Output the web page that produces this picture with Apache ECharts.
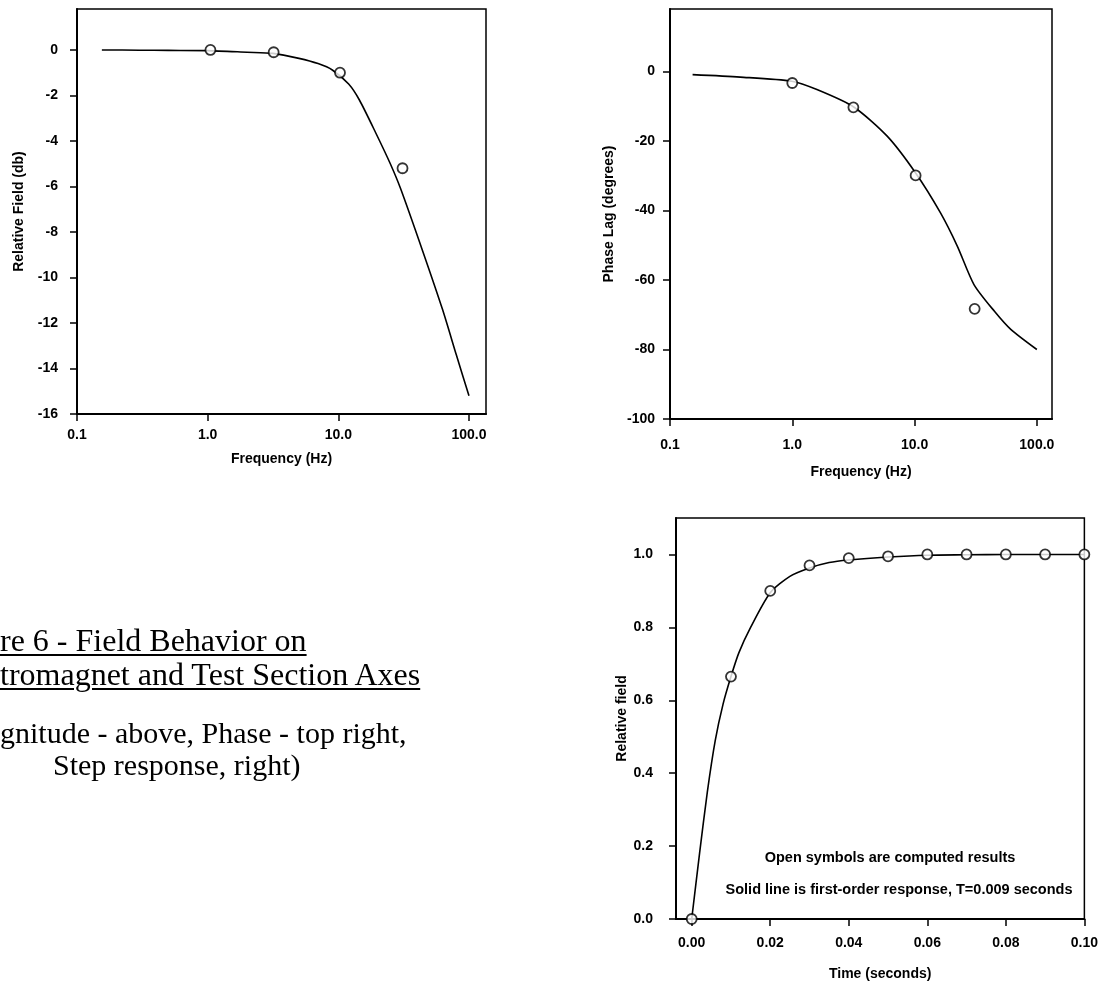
<!DOCTYPE html>
<html>
<head>
<meta charset="utf-8">
<script src="https://cdn.jsdelivr.net/npm/echarts@6/dist/echarts.min.js"></script>
<style>
html,body{margin:0;padding:0;background:#fff;overflow:hidden;}
#chart{width:1101px;height:986px;position:absolute;left:0;top:0;}
.cap{position:absolute;font-family:"Liberation Serif","Times New Roman",serif;font-size:32px;color:#000;white-space:nowrap;line-height:34px;}
.s{font-size:30px;line-height:32px;}
.u{text-decoration:underline;text-underline-offset:3px;text-decoration-thickness:1.5px;}
</style>
</head>
<body>
<div id="chart"></div>
<div class="cap u" style="left:0px;top:623px;">re 6 - Field Behavior on</div>
<div class="cap u" style="left:0px;top:657px;">tromagnet and Test Section Axes</div>
<div class="cap s" style="left:0px;top:717px;">gnitude - above, Phase - top right,</div>
<div class="cap s" style="left:53px;top:749px;">Step response, right)</div>
<script>
// ---- Magnitude (top-left) ----
var magTickLabels = [-16, -14, -12, -10, -8, -6, -4, -2, 0];
var freqTickLabels = [0.1, 1, 10, 100];
var magCurveFreq = [0.155, 0.3, 0.5, 1.0, 2.0, 3.16, 5.0, 7.0, 9.0, 12, 14.5, 19.4, 25, 30, 44, 62.7, 80, 100];
var magCurveDb   = [0, -0.01, -0.02, -0.03, -0.1, -0.15, -0.37, -0.6, -0.88, -1.5, -2.2, -3.66, -5.0, -6.1, -8.8, -11.4, -13.4, -15.2];
var magPtsFreq = [1.05, 3.2, 10.3, 31];
var magPtsDb   = [0, -0.1, -1.0, -5.2];

// ---- Phase (top-right) ----
var phaseTickLabels = [-100, -80, -60, -40, -20, 0];
var phaseCurveFreq = [0.153, 0.375, 0.99, 1.59, 3.18, 5.97, 10.2, 16.3, 22.4, 30.6, 45, 61.2, 100];
var phaseCurveDeg  = [-0.9, -1.6, -2.8, -5.2, -10.2, -18.6, -29.2, -40.7, -50.3, -61.3, -69, -74.2, -80];
var phasePtsFreq = [1.0, 3.16, 10.2, 31];
var phasePtsDeg  = [-3.3, -10.3, -29.9, -68.3];

// ---- Step response (bottom-right) ----
var timeTickLabels = [0, 0.02, 0.04, 0.06, 0.08, 0.10];
var stepTickLabels = [0, 0.2, 0.4, 0.6, 0.8, 1.0];
var stepCurveT = [0, 0.002, 0.004, 0.006, 0.008, 0.010, 0.012, 0.015, 0.020, 0.025, 0.030, 0.035, 0.040, 0.050, 0.060, 0.070, 0.080, 0.090, 0.100];
var stepCurveV = [0, 0.18, 0.35, 0.49, 0.59, 0.665, 0.73, 0.80, 0.895, 0.94, 0.963, 0.978, 0.985, 0.993, 0.998, 0.999, 1.0, 1.0, 1.0];
var stepPtsT = [0, 0.01, 0.02, 0.03, 0.04, 0.05, 0.06, 0.07, 0.08, 0.09, 0.10];
var stepPtsV = [0, 0.665, 0.90, 0.97, 0.99, 0.995, 1.0, 1.0, 1.0, 1.0, 1.0];

function zip(a, b) { return a.map(function (v, i) { return [v, b[i]]; }); }

var FONT = '"Liberation Sans", Arial, sans-serif';
var lblStyle = { color: '#000', fontFamily: FONT, fontWeight: 'bold', fontSize: 14 };
var nameStyle = { color: '#000', fontFamily: FONT, fontWeight: 'bold', fontSize: 14 };
var axLine = { show: true, onZero: false, lineStyle: { color: '#000', width: 2 } };
var tick = function (vals) { return { show: true, inside: false, length: 7, customValues: vals, lineStyle: { color: '#000', width: 1.5 } }; };

function axisX(gi, type, min, max, vals, fmt, margin, name, gap) {
  var o = {
    gridIndex: gi, type: type, min: min, max: max,
    axisLine: axLine, axisTick: tick(vals), splitLine: { show: false },
    axisLabel: Object.assign({ customValues: vals, formatter: fmt, margin: margin }, lblStyle),
    name: name, nameLocation: 'middle', nameGap: gap, nameTextStyle: nameStyle
  };
  if (type === 'log') o.logBase = 10;
  return o;
}
function axisY(gi, min, max, vals, fmt, margin, name, gap) {
  return {
    gridIndex: gi, type: 'value', min: min, max: max,
    axisLine: axLine, axisTick: tick(vals), splitLine: { show: false },
    axisLabel: Object.assign({ customValues: vals, formatter: fmt, margin: margin }, lblStyle),
    name: name, nameLocation: 'middle', nameRotate: 90, nameGap: gap, nameTextStyle: nameStyle
  };
}
var gridStyle = { show: true, borderColor: '#000', borderWidth: 1.5, backgroundColor: 'transparent' };
var lineSeries = function (xi, data) {
  return { type: 'line', xAxisIndex: xi, yAxisIndex: xi, data: data, smooth: 0.25, showSymbol: false,
    lineStyle: { color: '#000', width: 1.6 }, silent: true, z: 2 };
};
var ptSeries = function (xi, data) {
  return { type: 'scatter', xAxisIndex: xi, yAxisIndex: xi, data: data, symbol: 'circle', symbolSize: 10,
    itemStyle: { color: '#fff', borderColor: '#000', borderWidth: 1.8 }, silent: true, z: 3 };
};

var chart = echarts.init(document.getElementById('chart'), null, { renderer: 'canvas' });
chart.setOption({
  backgroundColor: '#fff',
  animation: false,
  grid: [
    Object.assign({ left: 77, top: 9, width: 409, height: 405 }, gridStyle),
    Object.assign({ left: 670, top: 9, width: 382, height: 410 }, gridStyle),
    Object.assign({ left: 676, top: 518, width: 410, height: 401 }, gridStyle)
  ],
  xAxis: [
    axisX(0, 'log', 0.1, 135, freqTickLabels, function (v) { return Number(v).toFixed(1); }, 14, 'Frequency (Hz)', 38),
    axisX(1, 'log', 0.1, 133, freqTickLabels, function (v) { return Number(v).toFixed(1); }, 19, 'Frequency (Hz)', 46),
    axisX(2, 'value', -0.004, 0.1, timeTickLabels, function (v) { return Number(v).toFixed(2); }, 17, 'Time (seconds)', 48)
  ],
  yAxis: [
    axisY(0, -16, 1.8, magTickLabels, function (v) { return String(v); }, 19, 'Relative Field (db)', 51),
    axisY(1, -100, 18, phaseTickLabels, function (v) { return String(v); }, 15, 'Phase Lag (degrees)', 54),
    axisY(2, 0, 1.1, stepTickLabels, function (v) { return Number(v).toFixed(1); }, 23, 'Relative field', 45)
  ],
  graphic: [
    { type: 'text', x: 890, y: 858, style: { text: 'Open symbols are computed results', fill: '#000', font: 'bold 14.5px ' + FONT, align: 'center', verticalAlign: 'middle' } },
    { type: 'text', x: 899, y: 890, style: { text: 'Solid line is first-order response, T=0.009 seconds', fill: '#000', font: 'bold 14.5px ' + FONT, align: 'center', verticalAlign: 'middle' } }
  ],
  series: [
    lineSeries(0, zip(magCurveFreq, magCurveDb)),
    ptSeries(0, zip(magPtsFreq, magPtsDb)),
    lineSeries(1, zip(phaseCurveFreq, phaseCurveDeg)),
    ptSeries(1, zip(phasePtsFreq, phasePtsDeg)),
    lineSeries(2, zip(stepCurveT, stepCurveV)),
    ptSeries(2, zip(stepPtsT, stepPtsV))
  ]
});
</script>
</body>
</html>
